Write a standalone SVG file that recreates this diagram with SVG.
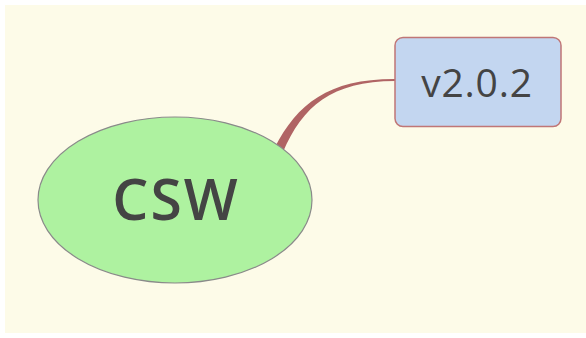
<svg xmlns="http://www.w3.org/2000/svg" width="586" height="338" viewBox="0 0 586 338">
  <style>
    .label { font-family: "Open Sans", "Noto Sans", "Liberation Sans", sans-serif; fill: #444444; text-anchor: middle; }
    .conn { fill: #b06464; stroke: none; }
  </style>
  <rect x="0" y="0" width="586" height="338" fill="#ffffff"/>
  <rect x="5" y="5" width="581" height="328" fill="#fdfbe8"/>
  <g id="connectors">
    <path class="conn" d="M 274.5 148 C 297.5 103.5, 328.5 78.8, 395 79 L 395 81 C 331.5 81.2, 302.5 106.5, 283 152 Z"/>
  </g>
  <g id="node-csw">
    <ellipse cx="175" cy="200" rx="137" ry="83" fill="#aef2a0" stroke="#8a8a8a" stroke-width="1.2"/>
    <text class="label" x="176" y="220" font-size="57" font-weight="650" letter-spacing="2">CSW</text>
  </g>
  <g id="node-v202">
    <rect x="395" y="37.5" width="166" height="89" rx="8" ry="8" fill="#c3d6f0" stroke="#c07676" stroke-width="1.5"/>
    <text class="label" x="477" y="97" font-size="39" letter-spacing="0.8">v2.0.2</text>
  </g>
</svg>
